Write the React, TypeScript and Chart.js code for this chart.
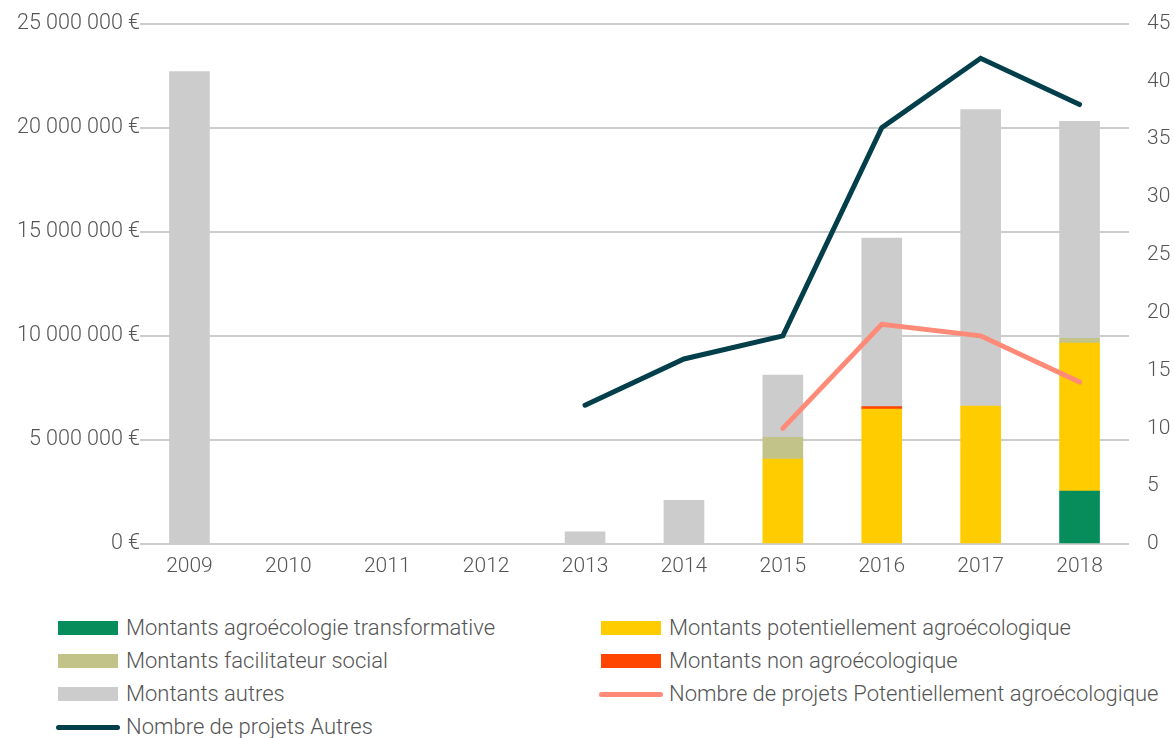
import React, { useEffect, useRef } from "react";
import { Chart, registerables } from "chart.js";

Chart.register(...registerables);

const years = ["2009", "2010", "2011", "2012", "2013", "2014", "2015", "2016", "2017", "2018"];
const transformative = [null, null, null, null, null, null, null, null, null, 2540000];
const potentiel = [null, null, null, null, null, null, 4080000, 6480000, 6620000, 7110000];
const facilitateur = [null, null, null, null, null, null, 1050000, null, null, 230000];
const nonAgro = [null, null, null, null, null, null, null, 120000, null, null];
const autres = [22700000, null, null, null, 580000, 2100000, 2980000, 8100000, 14250000, 10420000];
const projetsPotentiel = [null, null, null, null, null, null, 10, 19, 18, 14];
const projetsAutres = [null, null, null, null, 12, 16, 18, 36, 42, 38];
const leftTicks = [0, 5000000, 10000000, 15000000, 20000000, 25000000];

const C_GREEN = "#078C5B";
const C_YELLOW = "#FFCC00";
const C_OLIVE = "#C2C388";
const C_RED = "#FF4500";
const C_GREY = "#CCCCCC";
const C_SALMON = "#FF8A78";
const C_DARK = "#033F4A";

const FONT = "Roboto";
const TXT = "#555555";

function fmtEuro(v: number) {
  const s = Math.round(v).toString().replace(/\B(?=(\d{3})+(?!\d))/g, " ");
  return s + " €";
}

const legendItems = [
  { label: "Montants agroécologie transformative", color: C_GREEN, type: "box", col: 0, row: 0 },
  { label: "Montants potentiellement agroécologique", color: C_YELLOW, type: "box", col: 1, row: 0 },
  { label: "Montants facilitateur social", color: C_OLIVE, type: "box", col: 0, row: 1 },
  { label: "Montants non agroécologique", color: C_RED, type: "box", col: 1, row: 1 },
  { label: "Montants autres", color: C_GREY, type: "box", col: 0, row: 2 },
  { label: "Nombre de projets Potentiellement agroécologique", color: C_SALMON, type: "line", col: 1, row: 2 },
  { label: "Nombre de projets Autres", color: C_DARK, type: "line", col: 0, row: 3 },
];

export default function App() {
  const ref = useRef<HTMLCanvasElement>(null);
  useEffect(() => {
    document.body.style.margin = "0";
    const ctx = ref.current!;
    const chart = new Chart(ctx, {
      type: "bar",
      data: {
        labels: years,
        datasets: [
          { type: "line", label: "Nombre de projets Potentiellement agroécologique", data: projetsPotentiel, yAxisID: "y1", borderColor: C_SALMON, backgroundColor: C_SALMON, borderWidth: 5, pointRadius: 0, borderCapStyle: "round", order: 0 },
          { type: "line", label: "Nombre de projets Autres", data: projetsAutres, yAxisID: "y1", borderColor: C_DARK, backgroundColor: C_DARK, borderWidth: 5, pointRadius: 0, borderCapStyle: "round", order: 0 },
          { label: "Montants agroécologie transformative", data: transformative, backgroundColor: C_GREEN, stack: "s", yAxisID: "y", order: 1 },
          { label: "Montants potentiellement agroécologique", data: potentiel, backgroundColor: C_YELLOW, stack: "s", yAxisID: "y", order: 1 },
          { label: "Montants non agroécologique", data: nonAgro, backgroundColor: C_RED, stack: "s", yAxisID: "y", order: 1 },
          { label: "Montants facilitateur social", data: facilitateur, backgroundColor: C_OLIVE, stack: "s", yAxisID: "y", order: 1 },
          { label: "Montants autres", data: autres, backgroundColor: C_GREY, stack: "s", yAxisID: "y", order: 1 },
        ] as any,
      },
      options: {
        animation: false,
        responsive: false,
        layout: { padding: { top: 16, bottom: 0, left: 0, right: 0 } },
        plugins: { legend: { display: false }, tooltip: { enabled: false } },
        datasets: { bar: { barThickness: 40 } } as any,
        scales: {
          x: {
            stacked: true,
            grid: { display: false },
            border: { display: false },
            ticks: { color: TXT, font: { family: FONT, size: 21, weight: "300" as any }, padding: 2 },
            afterFit: (s: any) => { s.height = 46; },
          },
          y: {
            stacked: true,
            position: "left",
            min: 0,
            max: 25000000,
            afterBuildTicks: (s: any) => { s.ticks = leftTicks.map((v) => ({ value: v })); },
            grid: { color: "#CCCCCC", lineWidth: 2, drawTicks: false },
            border: { display: false },
            ticks: { color: TXT, font: { family: FONT, size: 21.5, weight: "300" as any }, padding: 0, callback: (v: any) => fmtEuro(Number(v)) },
            afterFit: (s: any) => { s.width = 140; },
          },
          y1: {
            position: "right",
            min: 0,
            max: 45,
            grid: { display: false, drawTicks: false },
            border: { display: false },
            ticks: { stepSize: 5, color: TXT, font: { family: FONT, size: 21, weight: "300" as any }, padding: 18 },
            afterFit: (s: any) => { s.width = 45; },
          },
        },
      },
    });
    return () => chart.destroy();
  }, []);

  return (
    <div style={{ position: "relative", width: 1174, height: 738, fontFamily: FONT, overflow: "hidden" }}>
      <canvas ref={ref} width={1174} height={597} style={{ display: "block", marginTop: -7 }} />
      {legendItems.map((it, i) => {
        const left = it.col === 0 ? 58 : 601;
        const top = 628 + it.row * 33;
        return (
          <div key={i} style={{ position: "absolute", left, top: top - 14, height: 28, display: "flex", alignItems: "center", whiteSpace: "nowrap" }}>
            {it.type === "box" ? (
              <div style={{ width: 60, height: 14, background: it.color, marginRight: 8 }} />
            ) : (
              <div style={{ width: 64, height: 5, borderRadius: 3, background: it.color, marginLeft: -2, marginRight: 6 }} />
            )}
            <span style={{ fontSize: 22, fontWeight: 300, color: TXT, lineHeight: "28px" }}>{it.label}</span>
          </div>
        );
      })}
    </div>
  );
}
